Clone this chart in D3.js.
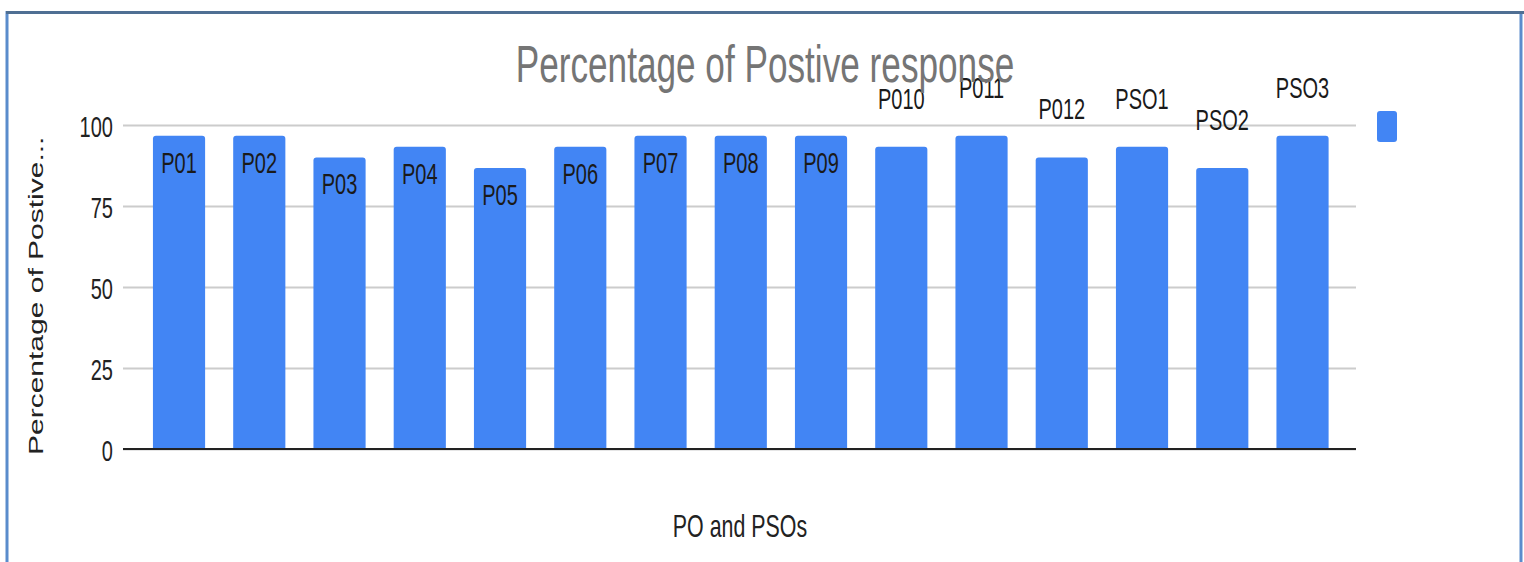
<!DOCTYPE html>
<html>
<head>
<meta charset="utf-8">
<script src="https://cdn.jsdelivr.net/npm/d3@7"></script>
<style>
  html, body { margin: 0; padding: 0; background: #ffffff; }
  svg { display: block; }
  text { font-family: "Liberation Sans", Arial, sans-serif; }
</style>
</head>
<body>
<svg id="chart" width="1524" height="562"></svg>
<script>
// Outcome categories and their share of positive responses (%)
const categories = ["P01", "P02", "P03", "P04", "P05", "P06", "P07", "P08", "P09",
                    "P010", "P011", "P012", "PSO1", "PSO2", "PSO3"];
const positivePct = [96.7, 96.7, 90, 93.3, 86.7, 93.3, 96.7, 96.7, 96.7,
                     93.3, 96.7, 90, 93.3, 86.7, 96.7];
const yTicks = [0, 25, 50, 75, 100];

const titleText = "Percentage of Postive response";
const yTitle = "Percentage of Postive...";
const xTitle = "PO and PSOs";

const W = 1524, H = 562;
const SX = 0.69;            // narrow glyph width used throughout the chart
const BLUE = "#4285f4";
const plot = { left: 123, right: 1356, top: 125, bottom: 449 };

const svg = d3.select("#chart");

// card frame
svg.append("rect").attr("x", 0).attr("y", 0).attr("width", W).attr("height", H).attr("fill", "#ffffff");
svg.append("line").attr("x1", 7).attr("x2", 7).attr("y1", 11).attr("y2", H)
  .attr("stroke", "#5a8ccc").attr("stroke-width", 3);
svg.append("line").attr("x1", 1521).attr("x2", 1521).attr("y1", 11).attr("y2", H)
  .attr("stroke", "#5a8ccc").attr("stroke-width", 3);
svg.append("line").attr("x1", 6).attr("x2", W).attr("y1", 12.5).attr("y2", 12.5)
  .attr("stroke", "#4f6f93").attr("stroke-width", 3);

// scales
const x = d3.scaleBand()
  .domain(categories)
  .range([138.9, 138.9 + 80.25 * categories.length])
  .paddingInner(0.35)
  .paddingOuter(0.175);

const y = d3.scaleLinear().domain([0, 100]).range([plot.bottom, plot.top]);

// narrow text helper
function label(g, txt, px, py, size, anchor, fill) {
  return g.append("text")
    .attr("transform", `translate(${px},${py}) scale(${SX},1)`)
    .attr("text-anchor", anchor)
    .attr("font-size", size)
    .attr("fill", fill)
    .text(txt);
}

// gridlines and y axis
const yAxis = d3.axisLeft(y)
  .tickValues(yTicks)
  .tickSize(-(plot.right - plot.left))
  .tickFormat(d3.format("d"));

const gy = svg.append("g")
  .attr("transform", `translate(${plot.left},0)`)
  .call(yAxis);
gy.select(".domain").remove();
gy.selectAll(".tick line")
  .attr("stroke", "#cccccc")
  .attr("stroke-width", 2);
gy.selectAll(".tick text")
  .attr("x", 0).attr("dy", null)
  .attr("transform", `translate(-10,11) scale(${SX},1)`)
  .attr("font-size", 29)
  .attr("font-family", "Liberation Sans, Arial, sans-serif")
  .attr("fill", "#222222");

// bars with slightly rounded tops
const bars = svg.append("g");
categories.forEach((c, i) => {
  const v = positivePct[i];
  const x0 = x(c), bw = x.bandwidth(), yt = y(v), yb = y(0), r = 3;
  bars.append("path")
    .attr("d", `M${x0},${yb} L${x0},${yt + r} Q${x0},${yt} ${x0 + r},${yt} L${x0 + bw - r},${yt} Q${x0 + bw},${yt} ${x0 + bw},${yt + r} L${x0 + bw},${yb} Z`)
    .attr("fill", BLUE);
});

// baseline
svg.append("line")
  .attr("x1", plot.left).attr("x2", plot.right)
  .attr("y1", y(0)).attr("y2", y(0))
  .attr("stroke", "#222222").attr("stroke-width", 2);

// category labels: the first nine sit inside the bar, the rest above it
const labels = svg.append("g");
categories.forEach((c, i) => {
  const cx = x(c) + x.bandwidth() / 2;
  const yt = y(positivePct[i]);
  const by = i < 9 ? yt + 37 : yt - 38;
  label(labels, c, cx, by, 29, "middle", "#1a1a1a");
});

// titles
label(svg, titleText, 765, 82, 51, "middle", "#757575");
label(svg, xTitle, 740, 537, 31, "middle", "#222222");
svg.append("text")
  .attr("transform", `translate(43,455) rotate(-90) scale(1,${SX})`)
  .attr("text-anchor", "start")
  .attr("font-size", 30)
  .attr("fill", "#222222")
  .text(yTitle);

// legend swatch
svg.append("rect")
  .attr("x", 1377).attr("y", 111).attr("width", 20).attr("height", 31)
  .attr("rx", 3).attr("fill", BLUE);
</script>
</body>
</html>
